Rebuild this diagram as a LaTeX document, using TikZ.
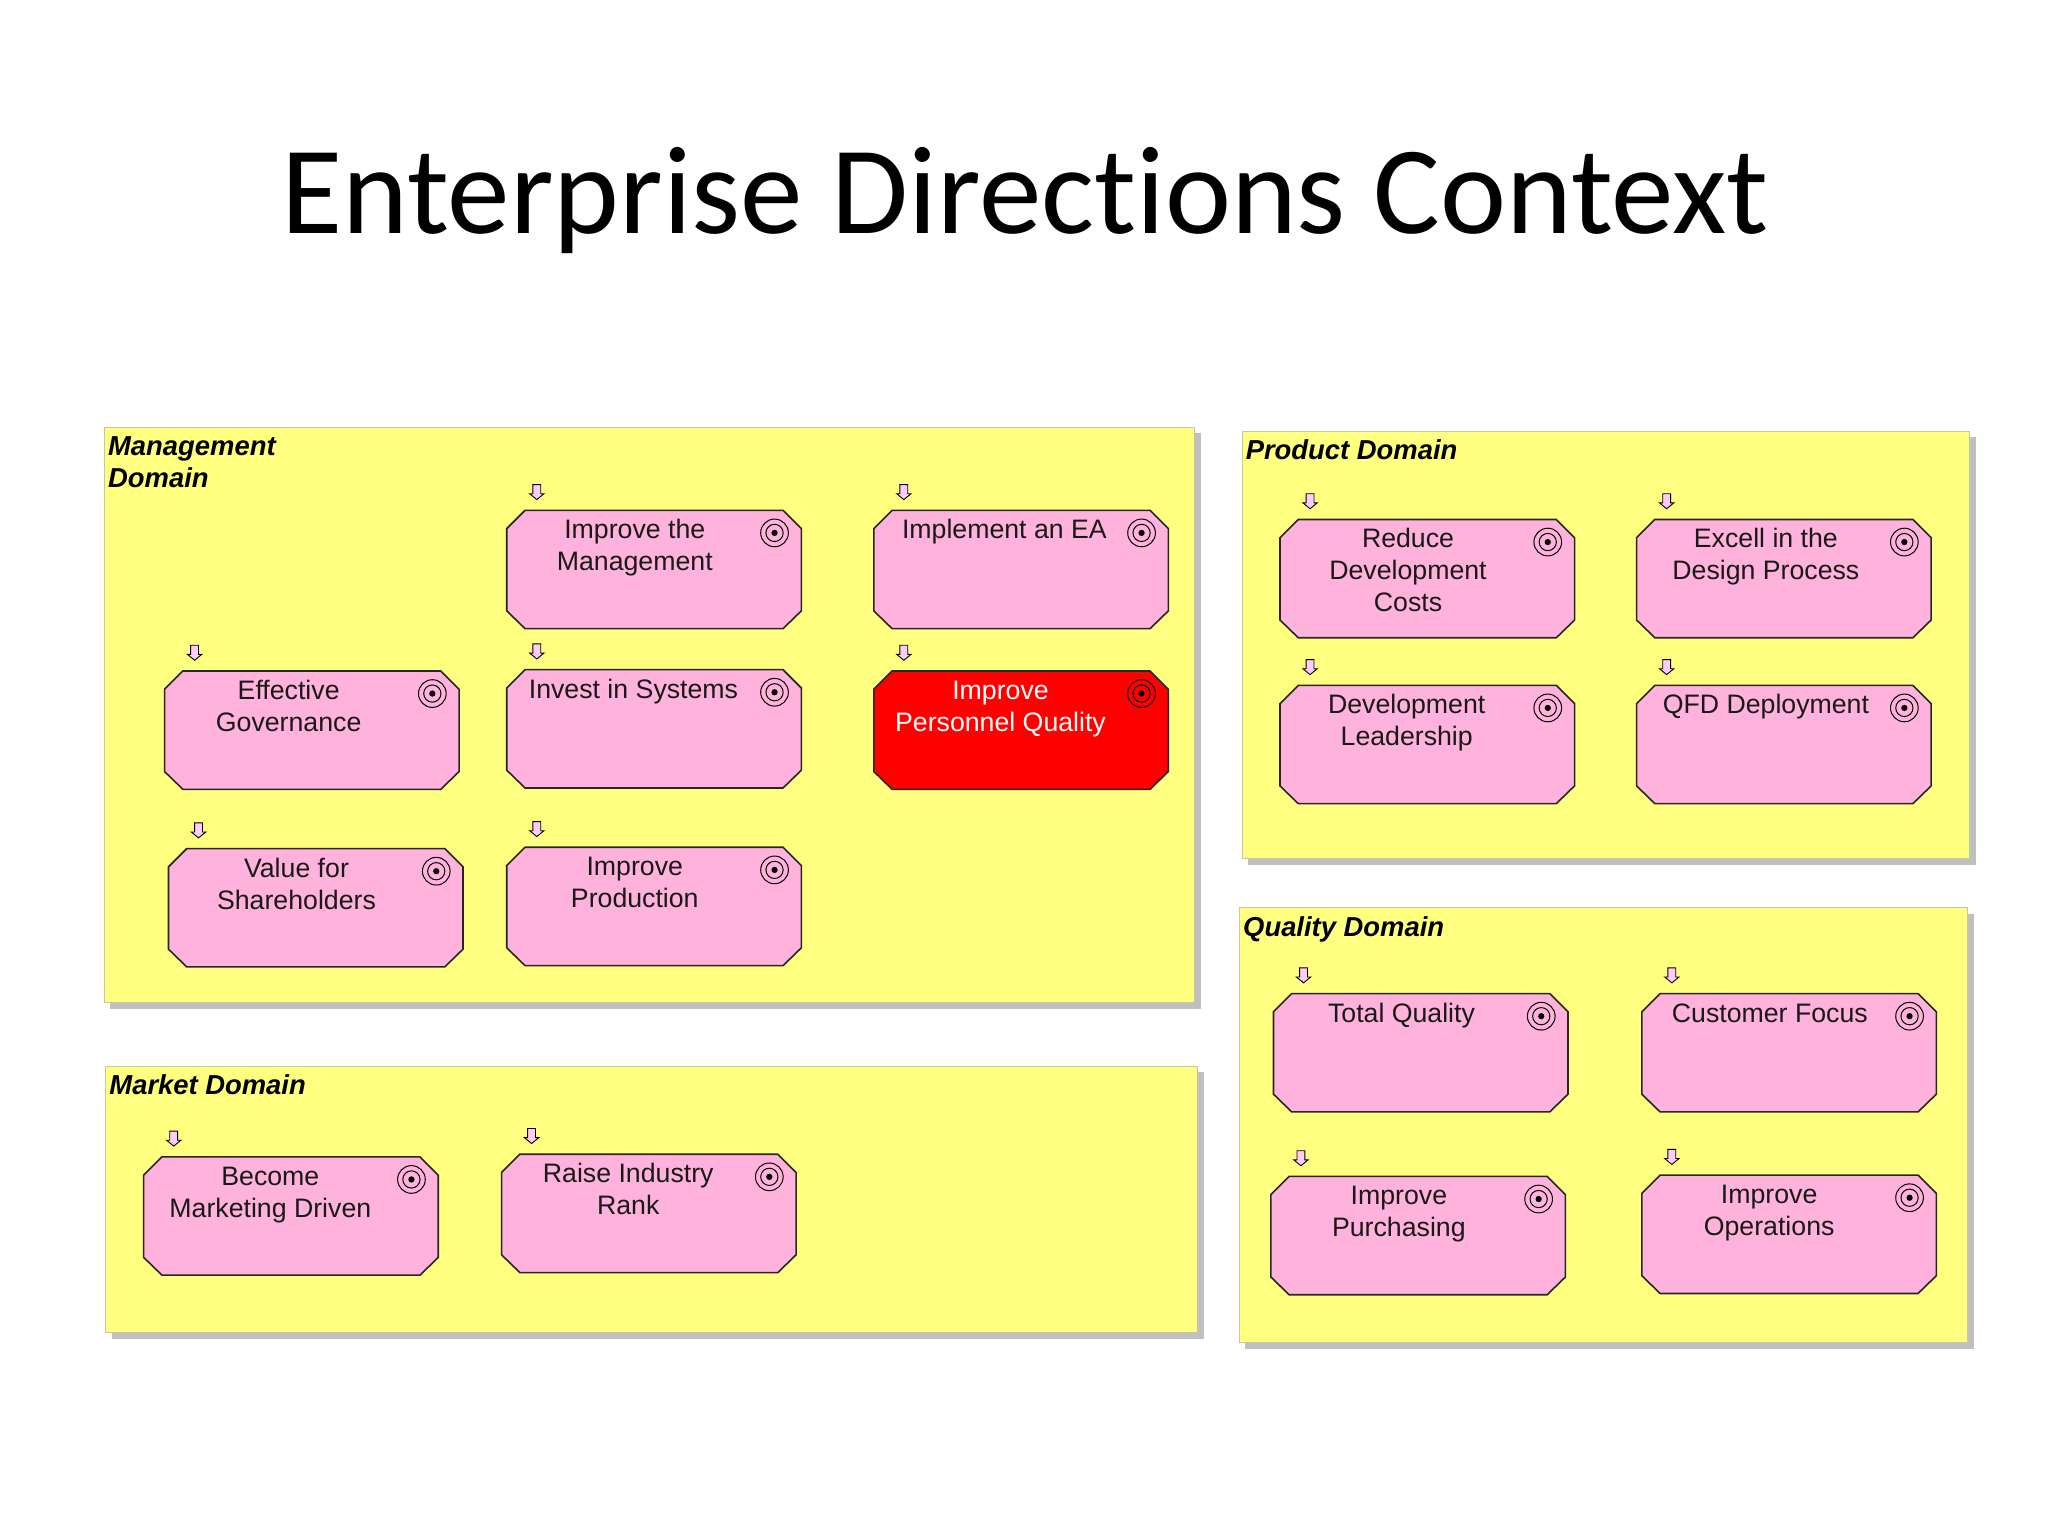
\documentclass[tikz,border=0pt]{standalone}
\usepackage{fontspec}
\setmainfont{Liberation Sans}
\newfontfamily\titlefont[Ligatures=NoCommon]{Carlito}
\definecolor{panelfill}{HTML}{FFFF80}
\definecolor{panelline}{HTML}{C8C8A0}
\definecolor{panelshadow}{HTML}{C0C0C0}
\definecolor{goalfill}{HTML}{FFB3DC}
\definecolor{arrowfill}{HTML}{FFCCFF}
\definecolor{goalred}{HTML}{FF0000}
\tikzset{
  x=0.65306pt, y=-0.65306pt,
  panelbox/.style={fill=panelfill, draw=panelline, line width=0.5pt},
  shadowbox/.style={fill=panelshadow},
  goalbox/.style={draw=black!85, line width=0.8pt, line join=miter},
  goalanchor/.style={rectangle, minimum width=147.3pt, minimum height=59pt,
    inner sep=0pt, outer sep=0pt, anchor=north west},
  goaltext/.style={anchor=north, align=center, inner sep=0pt, text=black!90,
    font=\fontsize{13.35}{16}\selectfont},
  paneltext/.style={anchor=north west, align=left, inner sep=0pt,
    font=\fontsize{13.7}{16}\selectfont\bfseries\itshape},
}
\newcommand{\panelat}[6]{% name x1 y1 x2 y2 label
  \fill[shadowbox] (#2+4.5,#3+4.5) rectangle (#4+4.5,#5+4.5);
  \draw[panelbox] (#2,#3) rectangle (#4-0.5,#5-0.5);
  \node[paneltext] (#1) at (#2+2.5,#3+4.2) {\strut #6};
}
\newcommand{\goalat}[6][goalfill]{% fill name x y textdx text
  \draw[goalbox, fill=#1] (#3+14,#4-0.3) -- (#3+211.5,#4-0.3) -- (#3+225.5,#4+13.7) -- (#3+225.5,#4+76.7)
    -- (#3+211.5,#4+90.3) -- (#3+14,#4+90.3) -- (#3,#4+76.7) -- (#3,#4+13.7) -- cycle;
  \node[goalanchor] (#2) at (#3,#4-0.3) {};
  \node[goaltext] (#2t) at (#3+#5,#4+4) {\strut #6};
  \draw[line width=0.5pt] (#3+205,#4+17) circle (10.6);
  \draw[line width=0.5pt] (#3+205,#4+17) circle (6.6);
  \fill (#3+205,#4+17) circle (2.4);
  \draw[line width=0.45pt, fill=arrowfill]
    (#3+20,#4-20) -- (#3+26,#4-20) -- (#3+26,#4-13) -- (#3+28.5,#4-13) -- (#3+23,#4-8.5)
    -- (#3+17.5,#4-13) -- (#3+20,#4-13) -- cycle;
}
\begin{document}
\begin{tikzpicture}
\useasboundingbox (0,0) rectangle (1568,1176);
\fill[white] (0,0) rectangle (1568,1176);
\node[font=\titlefont\fontsize{62.6}{72}\selectfont, inner sep=0pt, anchor=base] (title) at (785,178.5) {Enterprise Directions Context};
\panelat{pman}{80}{327}{915}{768}{Management\\Domain}
\panelat{pmar}{81}{816.5}{917}{1021}{Market Domain}
\panelat{ppro}{951}{330}{1508}{658}{Product Domain}
\panelat{pqua}{949}{695}{1507}{1028}{Quality Domain}
\goalat{g1}{388}{391}{98}{Improve the\\Management}
\goalat{g2}{669}{391}{100}{Implement an EA}
\goalat{g3}{126}{514}{95}{Effective\\Governance}
\goalat{g4}{388}{513}{97}{Invest in Systems}
\goalat[goalred]{g5}{669}{514}{97}{\textcolor{white}{Improve}\\\textcolor{white}{Personnel Quality}}
\goalat{g6}{129}{650}{98}{Value for\\Shareholders}
\goalat{g7}{388}{649}{98}{Improve\\Production}
\goalat{g8}{110}{886}{97}{Become\\Marketing Driven}
\goalat{g9}{384}{884}{97}{Raise Industry\\Rank}
\goalat{g10}{980}{398}{98}{Reduce\\Development\\Costs}
\goalat{g11}{1253}{398}{99}{Excell in the\\Design Process}
\goalat{g12}{980}{525}{97}{Development\\Leadership}
\goalat{g13}{1253}{525}{99}{QFD Deployment}
\goalat{g14}{975}{761}{98}{Total Quality}
\goalat{g15}{1257}{761}{98}{Customer Focus}
\goalat{g16}{973}{901}{98}{Improve\\Purchasing}
\goalat{g17}{1257}{900}{97.5}{Improve\\Operations}
\end{tikzpicture}
\end{document}
